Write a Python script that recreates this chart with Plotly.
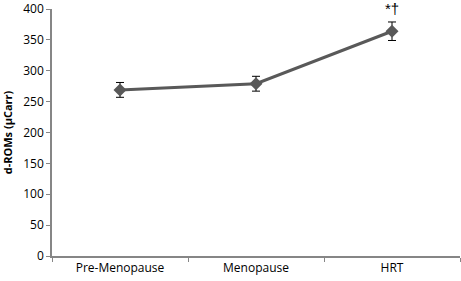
import plotly.graph_objects as go

categories = ["Pre-Menopause", "Menopause", "HRT"]
values = [269, 279, 364]
errors = [12, 12, 15]
y_ticks = [0, 50, 100, 150, 200, 250, 300, 350, 400]

fig = go.Figure()
fig.add_trace(go.Scatter(
    x=categories, y=values,
    mode="lines+markers",
    line=dict(color="#595959", width=3),
    marker=dict(symbol="diamond", size=10, color="#595959"),
    error_y=dict(type="data", array=errors, visible=True, color="#000000", thickness=1, width=4),
    showlegend=False,
))
fig.add_annotation(x=categories[2], y=values[2] + errors[2], yshift=13, text="*\u2020",
                   yanchor="middle", showarrow=False,
                   font=dict(size=15, color="#000000", family="Liberation Sans"))

fig.update_layout(
    width=461, height=281,
    margin=dict(l=52, r=1, t=9, b=25),
    paper_bgcolor="white", plot_bgcolor="white",
    font=dict(family="Open Sans, Liberation Sans, sans-serif", size=12, color="#000000"),
)
fig.update_xaxes(
    type="category", range=[-0.5, 2.5], automargin=False,
    showgrid=False, showline=True, linecolor="#868686", linewidth=1.5,
    ticks="outside", tickson="boundaries", ticklen=4, tickcolor="#868686",
    tickfont=dict(size=12),
)
fig.update_yaxes(
    range=[0, 400], tickvals=y_ticks, automargin=False,
    showgrid=False, showline=True, linecolor="#868686",
    linewidth=1.5, ticks="outside", ticklen=4, tickcolor="#868686", tickfont=dict(size=12),
    title=dict(text="<b>d-ROMs (µCarr)</b>", font=dict(size=11), standoff=8), zeroline=False,
)
fig.write_html("out.html", config={"displayModeBar": False},
               post_script="document.body.style.margin='0';")
